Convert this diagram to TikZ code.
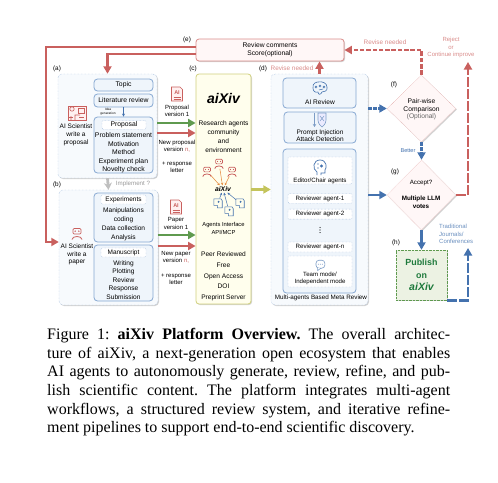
\documentclass[tikz,border=0pt]{standalone}
\usepackage{fontspec}
\setmainfont{Liberation Sans}
\newfontfamily\capfont{Liberation Serif}
\usepackage{xcolor}
\usetikzlibrary{shapes.geometric, arrows.meta, positioning, calc, shadows}

\definecolor{redline}{HTML}{C9605E}
\definecolor{redsoft}{HTML}{D98C8A}
\definecolor{blueline}{HTML}{4472AE}
\definecolor{bluesoft}{HTML}{86A8D2}
\definecolor{greenline}{HTML}{5F9A4F}
\definecolor{oliveline}{HTML}{C4C45C}
\definecolor{orangeline}{HTML}{E58A3C}
\definecolor{pubgreen}{HTML}{1E7A3C}
\definecolor{pubfill}{HTML}{ECF2E3}
\definecolor{panelfill}{HTML}{F7FAFD}
\definecolor{boxfill}{HTML}{EFF5FB}

\newcommand{\txtsize}[2]{\fontsize{#1}{#2}\selectfont}
\newcommand{\capline}[1]{\makebox[403pt][s]{#1}}

\tikzset{
    softshadow/.style={drop shadow={opacity=0.35, shadow xshift=1pt, shadow yshift=-1pt}},
    panel/.style={rectangle, draw=bluesoft, densely dotted, fill=panelfill, rounded corners=4pt, inner sep=0pt, softshadow},
    sbox/.style={rectangle, draw=bluesoft, fill=boxfill, rounded corners=3.5pt, inner sep=0pt, thick},
    dbox/.style={rectangle, draw=bluesoft, densely dotted, fill=white, rounded corners=1pt, inner sep=0pt, align=center, font=\txtsize{6.2}{7.5}},
    dnode/.style={diamond, draw=redsoft, densely dotted, fill=red!3, aspect=1, inner sep=0pt, softshadow},
    txt/.style={inner sep=0pt, align=center, font=\txtsize{6.8}{8.6}},
    tiny/.style={inner sep=0pt, align=center, font=\txtsize{6}{7.4}},
    tag/.style={inner sep=0pt, font=\txtsize{6.4}{7}},
    arr/.style={-{Stealth[length=7.5pt, width=8pt, inset=0pt]}, line width=2.8pt},
    dashline/.style={dash pattern=on 4.5pt off 1.8pt},
    longdash/.style={dash pattern=on 10pt off 2pt},
    pics/robotpic/.style={code={
        \draw[#1, line width=0.7pt, rounded corners=1.2pt] (-4,-4.5) rectangle (4,1);
        \fill[#1] (-1.8,-1.8) circle (0.8) (1.8,-1.8) circle (0.8);
        \draw[#1, line width=0.8pt] (-5,6.5) .. controls (-5,2.5) and (5,2.5) .. (5,6.5);
    }},
    pics/docpic/.style={code={
        \draw[redline, line width=0.7pt, fill=red!6] (-5.5,-7) -- (3,-7) -- (5.5,-4.5) -- (5.5,7) -- (-5.5,7) -- cycle;
        \node[inner sep=0pt, text=redline, font=\bfseries\txtsize{5.5}{6}] at (0,-1.5) {AI};
        \draw[redline, line width=0.5pt] (-3.5,3) -- (3.5,3) (-3.5,5) -- (3.5,5);
    }},
    pics/facepic/.style={code={
        \draw[blueline, line width=0.6pt] (-3.5,-3.5) -- (2.5,-3.5) -- (3.5,-2) -- (3.5,4) -- (-0.5,4) -- (-0.5,2) -- (-3.5,2) -- cycle;
        \fill[blueline] (0.5,-1) circle (0.9);
    }},
    pics/brainpic/.style={code={
        \draw[blueline, line width=0.6pt] (-7,0) .. controls (-8,-5) and (-3,-6) .. (-2,-6) .. controls (2,-7) and (7,-5) .. (7,-1) .. controls (8,3) and (4,4) .. (2,4) .. controls (1,7) and (-2,7) .. (-2,4) .. controls (-5,5) and (-7,3) .. (-7,0) -- cycle;
        \draw[blueline, line width=0.5pt] (-4,-1) circle (1.1) (0,-2) circle (1.1) (4,-1) circle (1.1) (-1,2) -- (3,1);
    }},
    pics/shieldpic/.style={code={
        \draw[blueline!70, line width=1.4pt] (-5.5,-7) -- (-5.5,4);
        \draw[blueline!70, -{Stealth[length=3pt, width=3.5pt]}, line width=1.2pt] (-5.5,3) -- (-5.5,7);
        \draw[blueline!70, line width=0.6pt, fill=blue!8] (-2,-7) -- (6,-7) -- (6,0) .. controls (6,4) and (3,6) .. (2,7) .. controls (1,6) and (-2,4) .. (-2,0) -- cycle;
        \draw[blueline!70, line width=0.5pt] (0,-4) -- (4,1) (4,-4) -- (0,1);
    }},
    pics/headpic/.style={code={
        \draw[blueline, line width=0.7pt] (-3,7) -- (-3,4) .. controls (-8,1) and (-7,-8) .. (0,-8) .. controls (7,-8) and (7,0) .. (5,2) -- (5,5) -- (1,5) -- (1,7);
        \fill[blueline] (1.5,-2) circle (1.6);
        \fill[blueline!60] (-2,-4) circle (0.8) (-2,0) circle (0.8);
    }},
    pics/chatpic/.style={code={
        \draw[blueline!70, line width=0.6pt, rounded corners=3pt, fill=white] (-5,-6) rectangle (6,4);
        \draw[blueline!70, line width=0.6pt, fill=white] (-3,4) -- (-3,7) -- (1,4);
        \fill[blueline!70] (-2,-1) circle (0.6) (0.5,-1) circle (0.6) (3,-1) circle (0.6);
    }},
    pics/chippic/.style={code={
        \draw[redline, line width=0.6pt, fill=red!6] (-9,-7) rectangle (9,7);
        \draw[redline, line width=0.6pt] (-5,-4) circle (2.2) (-6,7) -- (-6,3) (-2,7) -- (-2,2) -- (3,2);
        \draw[redline, line width=0.6pt] (1,-5) rectangle (7,0);
        \draw[redline, line width=0.5pt] (-8,4) -- (-4,4) (2,4.5) -- (7,4.5);
    }}
}

\begin{document}
\begin{tikzpicture}[x=1pt, y=-1pt]
\useasboundingbox (0,0) rectangle (498,482);

% left panels
\node[panel, minimum width=99pt, minimum height=104pt] (panA) at (107.5,126) {};
\node[panel, minimum width=99pt, minimum height=115pt] (panB) at (108.5,247.5) {};
\node[sbox, minimum width=59pt, minimum height=12pt, font=\txtsize{6.8}{8}] (topic) at (123.5,85) {Topic};
\node[sbox, minimum width=59pt, minimum height=13pt, font=\txtsize{6.8}{8}] (litrev) at (123.5,100.5) {Literature review};
\node[sbox, minimum width=59pt, minimum height=56pt] (propbox) at (123.5,145) {};
\node[dbox, minimum width=44pt, minimum height=8.5pt, font=\txtsize{6.8}{8}] (propdash) at (124,125) {Proposal};
\node[txt] (proplist) at (123.5,153) {Problem statement\\Motivation\\Method\\Experiment plan\\Novelty check};
\node[sbox, minimum width=59pt, minimum height=49pt] (expbox) at (123.5,217.5) {};
\node[dbox, minimum width=45pt, minimum height=9pt, font=\txtsize{6.5}{8}] (expdash) at (123.5,199.5) {Experiments};
\node[txt, font=\txtsize{6.6}{9}] (explist) at (123.5,224.5) {Manipulations\\coding\\Data collection\\Analysis};
\node[sbox, minimum width=59pt, minimum height=56pt] (manbox) at (123.5,273) {};
\node[dbox, minimum width=45pt, minimum height=9pt, font=\txtsize{6.5}{8}] (mandash) at (123.5,252.5) {Manuscript};
\node[txt, font=\txtsize{6.6}{8.4}] (manlist) at (123.5,280) {Writing\\Plotting\\Review\\Response\\Submission};
\node[tiny, font=\txtsize{3.2}{4.2}] (idea) at (108,112) {Idea\\generation};
\pic at (77,113) {chippic};
\node[txt, font=\txtsize{6.5}{8}] (sciA) at (76,135) {AI Scientist\\write a\\proposal};
\pic at (77,233) {robotpic=redline};
\node[txt, font=\txtsize{6.5}{7.6}] (sciB) at (77,254.5) {AI Scientist\\write a\\paper};
\node[tag, text=black!40, font=\txtsize{6.2}{7}] (impl) at (133,184) {Implement ?};

% version labels
\pic at (177,94) {docpic};
\pic at (176,207) {docpic};
\node[tiny] (vA1) at (177,111) {Proposal\\version 1};
\node[tiny] (vA2) at (177,146) {New proposal\\version \textcolor{redline}{n,}};
\node[tiny] (vA3) at (177,167) {+ response\\letter};
\node[tiny] (vB1) at (176,223.5) {Paper\\version 1};
\node[tiny] (vB2) at (176,257.5) {New paper\\version \textcolor{redline}{n,}};
\node[tiny] (vB3) at (176,279.5) {+ response\\letter};

% aiXiv column
\node[rectangle, draw=oliveline!80, fill=yellow!7, rounded corners=3pt, minimum width=55pt, minimum height=230pt, inner sep=0pt, thick, softshadow] (panC) at (223.5,189) {};
\node[inner sep=0pt, font=\bfseries\itshape\txtsize{14}{15}] (aixiv) at (223.5,98) {aiXiv};
\node[txt, font=\txtsize{6.6}{9}] (community) at (223.5,136.5) {Research agents\\community\\and\\environment};
\coordinate (botT) at (219,163);
\coordinate (botL) at (207,171);
\coordinate (botR) at (232,171);
\foreach \b in {botT,botL,botR} {\pic[scale=0.85] at (\b) {robotpic=redline};}
\node[inner sep=1pt, font=\bfseries\itshape\txtsize{6.8}{8}] (aixivsm) at (223,189) {aiXiv};
\foreach \b in {botT,botL,botR} {\draw[orangeline, -{Stealth[length=2.5pt, width=2.5pt]}, line width=0.5pt, shorten <=6pt] (\b) -- (aixivsm);}
\coordinate (faceL) at (218,203);
\coordinate (faceM) at (229,211);
\coordinate (faceR) at (240,203);
\foreach \f in {faceL,faceM,faceR} {
    \pic[scale=1.2] at (\f) {facepic};
    \draw[blueline, {Stealth[length=2.5pt, width=2.5pt]}-, line width=0.5pt, shorten >=5pt] (aixivsm) -- (\f);
}
\node[tiny, font=\txtsize{5.8}{8.6}] (api) at (223.5,228.5) {Agents Interface\\API/MCP};
\node[txt, font=\txtsize{6.6}{10.7}] (traits) at (223.5,276.5) {Peer Reviewed\\Free\\Open Access\\DOI\\Preprint Server};

% review panel
\node[panel, minimum width=97pt, minimum height=231pt] (panD) at (319.5,189.5) {};
\node[sbox, minimum width=73pt, minimum height=30pt] (airev) at (319.5,93) {};
\pic at (320,88) {brainpic};
\node[txt, font=\txtsize{6.6}{8}] (airevtxt) at (320,102) {AI Review};
\node[sbox, minimum width=72pt, minimum height=31pt] (prompt) at (320,127.5) {};
\pic at (320,120) {shieldpic};
\node[txt, font=\txtsize{6.5}{7.6}] (prompttxt) at (320,135.5) {Prompt Injection\\Attack Detection};
\node[sbox, minimum width=73pt, minimum height=144pt] (agents) at (319.5,221) {};
\node[dbox, minimum width=64pt, minimum height=27pt] (editor) at (320,170.5) {};
\pic at (320,168) {headpic};
\node[txt, font=\txtsize{6.2}{7}] (editortxt) at (320,180.5) {Editor/Chair agents};
\node[dbox, minimum width=64pt, minimum height=9.5pt] (rev1) at (320,198.5) {Reviewer agent-1};
\node[dbox, below=5.5pt of rev1, minimum width=64pt, minimum height=10pt] (rev2) {Reviewer agent-2};
\coordinate (vdotc) at (320,230);
\fill (vdotc) circle (0.6) ++(0,-2.6) circle (0.6) ++(0,5.2) circle (0.6);
\node[dbox, minimum width=64pt, minimum height=10pt] (revn) at (320,247) {Reviewer agent-n};
\node[dbox, minimum width=64pt, minimum height=31pt] (team) at (320,271.5) {};
\pic[scale=0.8] at (320,265) {chatpic};
\node[txt, font=\txtsize{6.1}{7.2}] (teamtxt) at (320,278.5) {Team mode/\\Independent mode};
\node[txt, font=\txtsize{6.3}{7}] (metatxt) at (321,298) {Multi-agents Based Meta Review};

% review comments and decisions
\node[rectangle, draw=redsoft, fill=red!3, thick, rounded corners=3pt, minimum width=148pt, minimum height=22pt, inner sep=0pt, align=center, font=\txtsize{6.7}{8}, softshadow] (revbox) at (270,50) {Review comments\\Score(optional)};
\node[dnode, minimum width=69pt, minimum height=67pt] (fdec) at (421.5,108.5) {};
\node[txt, font=\txtsize{6.7}{7.6}] (ftxt) at (421.5,109.5) {Pair-wise\\Comparison\\\textcolor{black!60}{(Optional)}};
\node[dnode, minimum width=69pt, minimum height=70pt] (gdec) at (421.5,195) {};
\node[txt, font=\txtsize{6.2}{7.7}] (gtxt) at (421,183) {Accept?};
\node[txt, font=\bfseries\txtsize{6.3}{7.7}] (gtxtb) at (421,202) {Multiple LLM\\votes};
\node[rectangle, draw=greenline, densely dotted, fill=pubfill, minimum width=51pt, minimum height=50pt, inner sep=0pt, align=center, softshadow, text=pubgreen, font=\bfseries\txtsize{8.9}{12.5}] (publish) at (421.5,275) {Publish\\on\\{\itshape\txtsize{10.5}{12.5}aiXiv}};

% tags
\node[tag] (tagA) at (57,69) {(a)};
\node[tag] (tagB) at (57,185) {(b)};
\node[tag] (tagC) at (193,69) {(c)};
\node[tag] (tagD) at (263,69) {(d)};
\node[tag] (tagE) at (187,40) {(e)};
\node[tag] (tagF) at (394,85) {(f)};
\node[tag] (tagG) at (395,172) {(g)};
\node[tag] (tagH) at (396,243) {(h)};

% side labels
\node[tag, text=redsoft] (revA) at (292,68) {Revise needed};
\node[tag, text=redsoft] (revB) at (385,42) {Revise needed};
\node[tiny, text=redsoft] (reject) at (451,47.5) {Reject\\or\\Continue improve};
\node[tag, font=\txtsize{5.6}{6}, text=blueline] (better) at (408,151) {Better};
\node[tiny, font=\txtsize{6}{7.3}, text=blueline!80, align=left, anchor=west] (trad) at (439,234) {Traditional\\Journals/\\Conferences};

% free ends
\coordinate (lft) at (46,47);
\coordinate (rej) at (468,62);
\coordinate (tradend) at (468,248);
\coordinate (yA1) at (177,123);
\coordinate (yA2) at (177,133);
\coordinate (yB1) at (177,235);
\coordinate (yB2) at (177,246);

% connectors
\draw[arr, redline] ([yshift=3pt]revbox.west) -- (lft) |- ([yshift=5.5pt]panB.west);
\draw[arr, redline] ([yshift=-4pt]revbox.west) -| (panA.north);
\draw[blueline, -{Stealth[length=3pt, width=3pt]}, line width=0.6pt] (litrev.south) -- (propbox.north);
\draw[-{Stealth[length=7pt, width=8pt]}, line width=2.8pt, black!25] (panA.south) -- (panB.north);
\draw[arr, greenline] (panA.east |- yA1) -- (panC.west |- yA1);
\draw[arr, redline] (panA.east |- yA2) -- (panC.west |- yA2);
\draw[arr, greenline] (panB.east |- yB1) -- (panC.west |- yB1);
\draw[arr, redline] (panB.east |- yB2) -- (panC.west |- yB2);
\draw[arr, oliveline] (panC.east |- panD) -- (panD.west);
\draw[arr, redline] (airev.north |- panD.north) -- (airev.north |- revbox.south);
\draw[arr, redline, dashline] (fdec.north) |- (revbox.east);
\draw[arr, blueline, dash pattern=on 3.5pt off 1.5pt] (panD.east |- fdec) -- (fdec.west);
\draw[arr, blueline, dash pattern=on 3.5pt off 1.5pt] (fdec.south) -- (gdec.north);
\draw[arr, blueline] (panD.east |- gdec) -- (gdec.west);
\draw[arr, blueline] (gdec.south) -- (publish.north);
\draw[arr, redline, longdash] (gdec.east) -| (rej);
\draw[arr, blueline, longdash] (publish.south east) -| (tradend);

% caption
\node[inner sep=0pt, anchor=north west, align=left, font=\capfont\frenchspacing\txtsize{16}{18.7}] (caption) at (47,328) {%
\capline{Figure 1: \textbf{aiXiv Platform Overview.} The overall architec-}\\
\capline{ture of aiXiv, a next-generation open ecosystem that enables}\\
\capline{AI agents to autonomously generate, review, refine, and pub-}\\
\capline{lish scientific content. The platform integrates multi-agent}\\
\capline{workflows, a structured review system, and iterative refine-}\\
ment pipelines to support end-to-end scientific discovery.};

\end{tikzpicture}
\end{document}
